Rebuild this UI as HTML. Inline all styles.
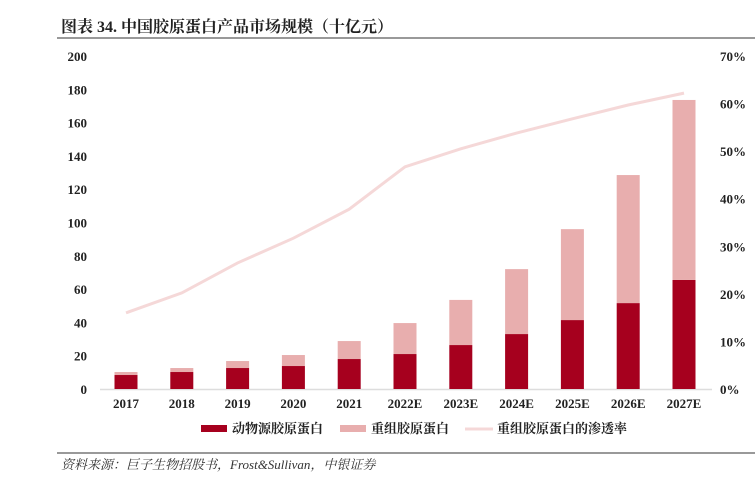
<!DOCTYPE html>
<html><head><meta charset="utf-8"><style>
body{margin:0;background:#fff;width:755px;height:481px;overflow:hidden;font-family:"Liberation Serif","Noto Serif CJK SC",serif;}
</style></head><body>
<svg width="755" height="481" id="chart" xmlns="http://www.w3.org/2000/svg">
<text x="61" y="32" font-size="16" font-weight="bold" fill="#222" font-family="'Liberation Serif','Noto Serif CJK SC',serif">图表 34. 中国胶原蛋白产品市场规模（十亿元）</text>
<rect x="57" y="37" width="698" height="2" fill="#999"/>
<line x1="100" y1="389.5" x2="712" y2="389.5" stroke="#ddd" stroke-width="1.5"/>
<g id="bars"></g><g id="ticks"></g>
<g>
<rect x="201" y="425" width="26" height="7" fill="#A6001E"/>
<text x="232" y="433" font-size="13" font-weight="bold" fill="#222">动物源胶原蛋白</text>
<rect x="340" y="425" width="26" height="7" fill="#E8AEAE"/>
<text x="371" y="433" font-size="13" font-weight="bold" fill="#222">重组胶原蛋白</text>
<line x1="465" y1="429" x2="493" y2="429" stroke="#F5D8D8" stroke-width="3"/>
<text x="497" y="433" font-size="13" font-weight="bold" fill="#222">重组胶原蛋白的渗透率</text>
</g>
<rect x="57" y="452" width="698" height="2" fill="#999"/>
<text x="61" y="469" font-size="13" font-style="italic" fill="#333">资料来源：巨子生物招股书，Frost&amp;Sullivan，中银证券</text>
</svg>
<script>
const categories=["2017","2018","2019","2020","2021","2022E","2023E","2024E","2025E","2026E","2027E"];
const animalValues=[8.4,10.2,12.6,13.8,18,21,26.4,33,41.4,51.6,65.5];
const recombinantValues=[1.8,2.4,4.2,6.6,10.8,18.6,27.1,39,54.6,76.9,108.1];
const penetrationValues=[16,20.2,26.5,31.7,37.8,46.7,50.5,53.8,56.8,59.7,62.2];
const leftTicks=[0,20,40,60,80,100,120,140,160,180,200];
const rightTicks=[0,10,20,30,40,50,60,70];
const NS="http://www.w3.org/2000/svg";
const y0=389,yTop=56;
function yL(v){return y0-(v/200)*(y0-yTop);}
function yR(v){return y0-(v/70)*(y0-yTop);}
function xC(i){return 126+i*55.8;}
const bars=document.getElementById('bars'),ticks=document.getElementById('ticks');
function mk(tag,attrs,parent){const e=document.createElementNS(NS,tag);for(const k in attrs)e.setAttribute(k,attrs[k]);parent.appendChild(e);return e;}
categories.forEach((c,i)=>{
  const x=xC(i)-11.5;
  const a=mk('rect',{x:x,y:yL(animalValues[i]),width:23,height:y0-yL(animalValues[i]),fill:'#A6001E'},bars);
  
  
  const tot=animalValues[i]+recombinantValues[i];
  const r=mk('rect',{x:x,y:yL(tot),width:23,height:yL(animalValues[i])-yL(tot),fill:'#E8AEAE'},bars);
  
  
  const t=mk('text',{x:xC(i),y:408,'font-size':13,'font-weight':'bold','text-anchor':'middle',fill:'#222'},ticks);
  t.textContent=c;
  
  
});
const pts=penetrationValues.map((v,i)=>xC(i)+','+yR(v)).join(' ');
const pl=mk('polyline',{points:pts,fill:'none',stroke:'#F5D8D8','stroke-width':3},bars);


leftTicks.forEach(v=>{
  const t=mk('text',{x:87,y:yL(v)+5,'font-size':13,'font-weight':'bold','text-anchor':'end',fill:'#222'},ticks);
  t.textContent=v;
  
  
});
rightTicks.forEach(v=>{
  const t=mk('text',{x:720,y:yR(v)+5,'font-size':13,'font-weight':'bold',fill:'#222'},ticks);
  t.textContent=v+'%';
  
  
});
</script>
</body></html>
